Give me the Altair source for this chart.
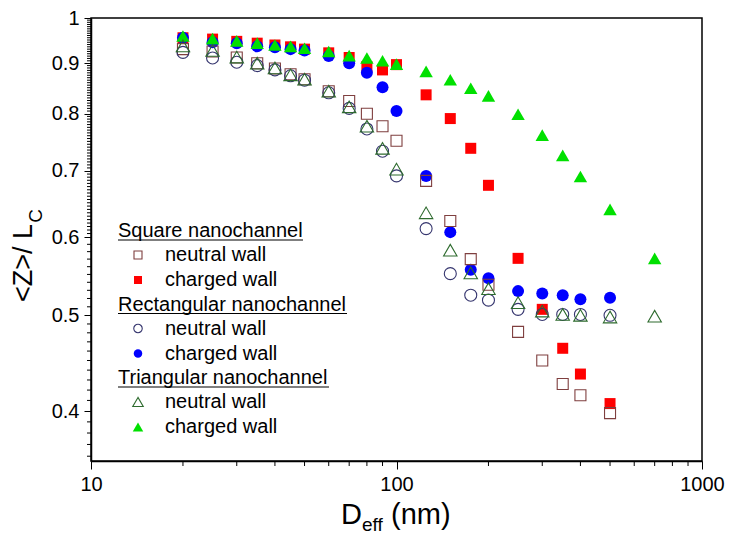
import altair as alt
import pandas as pd

# ---------------- data ----------------
D = [20, 25, 30, 35, 40, 45, 50, 60, 70, 80, 90, 100, 125, 150, 175, 200, 250, 300, 350, 400, 500]
D_TRI = D + [700]

SQ_NEUTRAL = [0.930, 0.925, 0.912, 0.900, 0.889, 0.877, 0.867, 0.843, 0.824, 0.800, 0.777, 0.751,
              0.684, 0.623, 0.570, 0.537, 0.481, 0.450, 0.426, 0.415, 0.398]
SQ_CHARGED = [0.955, 0.952, 0.947, 0.943, 0.939, 0.935, 0.930, 0.922, 0.912, 0.893, 0.886, 0.897,
              0.836, 0.791, 0.738, 0.677, 0.571, 0.507, 0.463, 0.436, 0.407]
RE_NEUTRAL = [0.923, 0.911, 0.902, 0.895, 0.886, 0.874, 0.865, 0.840, 0.810, 0.772, 0.733, 0.692,
              0.612, 0.551, 0.524, 0.518, 0.507, 0.501, 0.501, 0.501, 0.500]
RE_CHARGED = [0.955, 0.945, 0.943, 0.936, 0.934, 0.930, 0.927, 0.915, 0.900, 0.880, 0.851, 0.805,
              0.692, 0.607, 0.556, 0.545, 0.529, 0.526, 0.524, 0.519, 0.521]
TR_NEUTRAL = [0.937, 0.927, 0.913, 0.900, 0.890, 0.876, 0.867, 0.843, 0.813, 0.777, 0.738, 0.703,
              0.635, 0.582, 0.552, 0.532, 0.515, 0.505, 0.501, 0.500, 0.498, 0.499]
TR_CHARGED = [0.959, 0.953, 0.948, 0.943, 0.939, 0.936, 0.932, 0.925, 0.916, 0.911, 0.905, 0.898,
              0.883, 0.866, 0.849, 0.834, 0.799, 0.761, 0.726, 0.691, 0.640, 0.571]

X_MAJOR = [10, 100, 1000]
X_MINOR = [20, 30, 40, 50, 60, 70, 80, 90, 200, 300, 400, 500, 600, 700, 800, 900]
Y_MAJOR = [0.4, 0.5, 0.6, 0.7, 0.8, 0.9, 1.0]
Y_MINOR = sorted(set([round(0.36 + 0.01 * i, 3) for i in range(25)] +
                     [round(0.6 + 0.005 * i, 3) for i in range(81)]) - set(Y_MAJOR))

FONT = "Liberation Sans"
W, H = 611, 443

SERIES = [
    ("sq_c", D, SQ_CHARGED, "square", True, "#ff0000"),
    ("re_c", D, RE_CHARGED, "circle", True, "#0000ff"),
    ("tr_c", D_TRI, TR_CHARGED, "triangle-up", True, "#00e000"),
    ("sq_n", D, SQ_NEUTRAL, "square", False, "#7f3f3f"),
    ("re_n", D, RE_NEUTRAL, "circle", False, "#35356e"),
    ("tr_n", D_TRI, TR_NEUTRAL, "triangle-up", False, "#2e6b2e"),
]
SIZES = {"square": 121, "circle": 144, "triangle-up": 180}

x_scale = alt.Scale(type="log", domain=[10, 1000], nice=False)
y_scale = alt.Scale(type="log", domain=[0.356, 1.0], nice=False)

x_axis = alt.Axis(values=X_MAJOR, format="~g", title=None, tickSize=8,
                  labelFontSize=20, labelFont=FONT, labelColor="black",
                  labelPadding=5, domainColor="black", domainWidth=1.5,
                  tickColor="black", tickWidth=1, grid=False, labelFlush=False)
y_axis = alt.Axis(values=Y_MAJOR, format="~g", title=None, tickSize=7,
                  labelFontSize=20, labelFont=FONT, labelColor="black",
                  labelPadding=5, domainColor="black", domainWidth=1.5,
                  tickColor="black", tickWidth=1, grid=False, labelFlush=False)


def X():
    return alt.X("D:Q", scale=x_scale, axis=x_axis)


def Y():
    return alt.Y("Z:Q", scale=y_scale, axis=y_axis)


layers = []
for name, xs, ys, shape, filled, color in SERIES:
    df = pd.DataFrame({"D": xs, "Z": ys})
    if filled:
        mk = alt.Chart(df).mark_point(shape=shape, filled=True, fill=color, color=color,
                                      strokeWidth=0, opacity=1, size=SIZES[shape])
    else:
        mk = alt.Chart(df).mark_point(shape=shape, filled=False, stroke=color, fill=None,
                                      strokeWidth=1.1, opacity=1, size=SIZES[shape])
    layers.append(mk.encode(x=X(), y=Y()))

# minor ticks drawn through the same scales (same axis definitions so they merge)
layers.append(alt.Chart(pd.DataFrame({"Z": Y_MINOR})).mark_rule(color="black", strokeWidth=1).encode(
    y=Y(), x=alt.value(0), x2=alt.value(-4)))
layers.append(alt.Chart(pd.DataFrame({"D": X_MINOR})).mark_rule(color="black", strokeWidth=1).encode(
    x=X(), y=alt.value(H), y2=alt.value(H + 5)))

one = alt.Data(values=[{"k": 0}])


def text(t, x, y, size=20, angle=0, align="left", baseline="middle"):
    kw = dict(text=t, font=FONT, fontSize=size, color="black", align=align, baseline=baseline)
    if angle:
        kw["angle"] = angle
    return alt.Chart(one).mark_text(**kw).encode(x=alt.value(x), y=alt.value(y))


def rule(x1, x2, y):
    return alt.Chart(one).mark_rule(color="black", strokeWidth=1.2).encode(
        x=alt.value(x1), x2=alt.value(x2), y=alt.value(y))


def marker(shape, filled, color, x, y, size):
    if filled:
        m = alt.Chart(one).mark_point(shape=shape, filled=True, fill=color, color=color,
                                      strokeWidth=0, opacity=1, size=size)
    else:
        m = alt.Chart(one).mark_point(shape=shape, filled=False, stroke=color, fill=None,
                                      strokeWidth=1.1, opacity=1, size=size)
    return m.encode(x=alt.value(x), y=alt.value(y))


# ---------------- legend ----------------
LEG = [
    ("Square nanochannel", 185, "square", "#7f3f3f", "#ff0000", 64),
    ("Rectangular nanochannel", 229, "circle", "#35356e", "#0000ff", 72),
    ("Triangular nanochannel", 211, "triangle-up", "#2e6b2e", "#00e000", 110),
]
hx, mx, tx = 27, 47, 74
y0 = 213
for i, (head, w, shape, c_n, c_c, sz) in enumerate(LEG):
    yh = y0 + i * 73.5
    layers.append(text(head, hx, yh))
    layers.append(rule(hx, hx + w, yh + 9))
    layers.append(marker(shape, False, c_n, mx, yh + 24, sz))
    layers.append(text("neutral wall", tx, yh + 24))
    layers.append(marker(shape, True, c_c, mx, yh + 49, sz))
    layers.append(text("charged wall", tx, yh + 49))

# ---------------- axis titles ----------------
layers.append(text("<Z>/ L", -67, 245, size=27, angle=270, align="center"))
layers.append(text("C", -55, 198, size=19, angle=270, align="center"))
layers.append(text("D", 250, 506, size=29, align="left", baseline="alphabetic"))
layers.append(text("eff", 271, 513, size=19, align="left", baseline="alphabetic"))
layers.append(text("(nm)", 300, 506, size=29, align="left", baseline="alphabetic"))

chart = alt.layer(*layers).properties(
    width=W, height=H,
    autosize=alt.AutoSizeParams(type="none"),
    padding={"left": 83, "top": 10, "right": 23, "bottom": 78},
    background="white",
).configure_view(stroke="black", strokeWidth=1.5)

chart.save("out.html", embed_options={"renderer": "svg", "actions": False})
